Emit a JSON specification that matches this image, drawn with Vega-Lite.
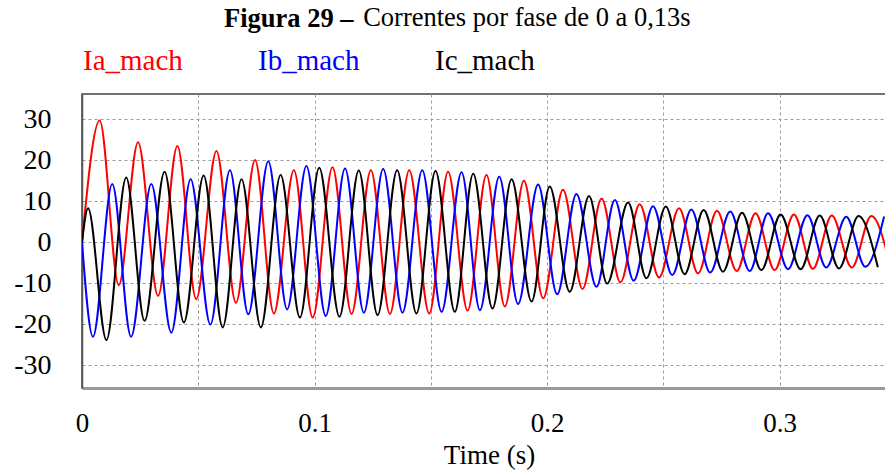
{
  "$schema": "https://vega.github.io/schema/vega-lite/v6.json",
  "autosize": {"type": "none"},
  "padding": {"left": 82, "top": 94, "right": 0, "bottom": 85},
  "width": 814,
  "height": 294,
  "background": "white",
  "title": {
    "text": "Figura 29 –",
    "subtitle": "\u200b\u00a0\u00a0\u00a0\u00a0\u00a0\u00a0\u00a0\u00a0\u00a0\u00a0\u00a0\u00a0\u00a0\u00a0\u00a0\u00a0\u00a0\u00a0\u00a0\u00a0\u00a0Correntes por fase de 0 a 0,13s",
    "anchor": "start",
    "frame": "group",
    "dx": 142,
    "font": "Times New Roman, Liberation Serif, serif",
    "fontSize": 26.5,
    "fontWeight": "bold",
    "color": "black",
    "subtitleFont": "Times New Roman, Liberation Serif, serif",
    "subtitleFontSize": 26.5,
    "subtitleFontWeight": "normal",
    "subtitleColor": "black",
    "subtitlePadding": -28,
    "offset": 12
  },
  "config": {
    "view": {"stroke": "#444444", "strokeWidth": 1.5},
    "axis": {
      "labelFont": "Times New Roman, Liberation Serif, serif",
      "titleFont": "Times New Roman, Liberation Serif, serif",
      "labelColor": "black",
      "titleColor": "black",
      "ticks": false,
      "grid": true,
      "gridColor": "#9a9a9a",
      "gridDash": [3, 3],
      "gridWidth": 1
    }
  },
  "data": {
    "values": [
      {"p": "Ia_mach", "t": 0, "i": 0},
      {"p": "Ia_mach", "t": 0.0076, "i": 29.7},
      {"p": "Ia_mach", "t": 0.0158, "i": -10.5},
      {"p": "Ia_mach", "t": 0.0241, "i": 24.4},
      {"p": "Ia_mach", "t": 0.0327, "i": -13.1},
      {"p": "Ia_mach", "t": 0.041, "i": 23.5},
      {"p": "Ia_mach", "t": 0.0491, "i": -13.9},
      {"p": "Ia_mach", "t": 0.0578, "i": 22.3},
      {"p": "Ia_mach", "t": 0.0662, "i": -14.8},
      {"p": "Ia_mach", "t": 0.0744, "i": 20.1},
      {"p": "Ia_mach", "t": 0.0825, "i": -17.4},
      {"p": "Ia_mach", "t": 0.0911, "i": 17.6},
      {"p": "Ia_mach", "t": 0.0992, "i": -18.4},
      {"p": "Ia_mach", "t": 0.1077, "i": 18.3},
      {"p": "Ia_mach", "t": 0.1159, "i": -17.5},
      {"p": "Ia_mach", "t": 0.1242, "i": 17.6},
      {"p": "Ia_mach", "t": 0.1324, "i": -17.5},
      {"p": "Ia_mach", "t": 0.1407, "i": 17.6},
      {"p": "Ia_mach", "t": 0.1493, "i": -17.4},
      {"p": "Ia_mach", "t": 0.1574, "i": 17.2},
      {"p": "Ia_mach", "t": 0.1658, "i": -16.7},
      {"p": "Ia_mach", "t": 0.1739, "i": 16.4},
      {"p": "Ia_mach", "t": 0.1818, "i": -15.7},
      {"p": "Ia_mach", "t": 0.19, "i": 15.0},
      {"p": "Ia_mach", "t": 0.1983, "i": -13.7},
      {"p": "Ia_mach", "t": 0.2068, "i": 12.8},
      {"p": "Ia_mach", "t": 0.2152, "i": -11.4},
      {"p": "Ia_mach", "t": 0.2234, "i": 10.7},
      {"p": "Ia_mach", "t": 0.2315, "i": -9.8},
      {"p": "Ia_mach", "t": 0.2398, "i": 9.3},
      {"p": "Ia_mach", "t": 0.2481, "i": -8.6},
      {"p": "Ia_mach", "t": 0.2567, "i": 8.3},
      {"p": "Ia_mach", "t": 0.2649, "i": -7.6},
      {"p": "Ia_mach", "t": 0.273, "i": 7.7},
      {"p": "Ia_mach", "t": 0.2815, "i": -7.0},
      {"p": "Ia_mach", "t": 0.2896, "i": 7.1},
      {"p": "Ia_mach", "t": 0.2978, "i": -6.8},
      {"p": "Ia_mach", "t": 0.3061, "i": 6.8},
      {"p": "Ia_mach", "t": 0.3143, "i": -6.5},
      {"p": "Ia_mach", "t": 0.3224, "i": 6.5},
      {"p": "Ia_mach", "t": 0.331, "i": -6.2},
      {"p": "Ia_mach", "t": 0.3394, "i": 6.4},
      {"p": "Ia_mach", "t": 0.3477, "i": -6.1},

      {"p": "Ib_mach", "t": 0, "i": 0},
      {"p": "Ib_mach", "t": 0.0047, "i": -23.1},
      {"p": "Ib_mach", "t": 0.013, "i": 14.2},
      {"p": "Ib_mach", "t": 0.0211, "i": -23.1},
      {"p": "Ib_mach", "t": 0.0298, "i": 14.2},
      {"p": "Ib_mach", "t": 0.0384, "i": -22.1},
      {"p": "Ib_mach", "t": 0.0467, "i": 15.4},
      {"p": "Ib_mach", "t": 0.0552, "i": -20.1},
      {"p": "Ib_mach", "t": 0.0636, "i": 17.6},
      {"p": "Ib_mach", "t": 0.0715, "i": -17.6},
      {"p": "Ib_mach", "t": 0.0801, "i": 19.8},
      {"p": "Ib_mach", "t": 0.0882, "i": -16.4},
      {"p": "Ib_mach", "t": 0.0965, "i": 18.6},
      {"p": "Ib_mach", "t": 0.1048, "i": -18.0},
      {"p": "Ib_mach", "t": 0.1131, "i": 18.0},
      {"p": "Ib_mach", "t": 0.1212, "i": -17.2},
      {"p": "Ib_mach", "t": 0.1295, "i": 17.9},
      {"p": "Ib_mach", "t": 0.1378, "i": -17.2},
      {"p": "Ib_mach", "t": 0.1463, "i": 17.6},
      {"p": "Ib_mach", "t": 0.1546, "i": -17.0},
      {"p": "Ib_mach", "t": 0.1632, "i": 17.1},
      {"p": "Ib_mach", "t": 0.1711, "i": -16.6},
      {"p": "Ib_mach", "t": 0.1794, "i": 16.0},
      {"p": "Ib_mach", "t": 0.1875, "i": -15.1},
      {"p": "Ib_mach", "t": 0.1961, "i": 14.1},
      {"p": "Ib_mach", "t": 0.2043, "i": -12.7},
      {"p": "Ib_mach", "t": 0.2126, "i": 11.8},
      {"p": "Ib_mach", "t": 0.2212, "i": -10.9},
      {"p": "Ib_mach", "t": 0.2291, "i": 10.3},
      {"p": "Ib_mach", "t": 0.2372, "i": -9.4},
      {"p": "Ib_mach", "t": 0.2455, "i": 8.8},
      {"p": "Ib_mach", "t": 0.2538, "i": -8.0},
      {"p": "Ib_mach", "t": 0.262, "i": 8.0},
      {"p": "Ib_mach", "t": 0.2701, "i": -7.4},
      {"p": "Ib_mach", "t": 0.2787, "i": 7.5},
      {"p": "Ib_mach", "t": 0.2871, "i": -7.0},
      {"p": "Ib_mach", "t": 0.295, "i": 7.1},
      {"p": "Ib_mach", "t": 0.3036, "i": -6.6},
      {"p": "Ib_mach", "t": 0.3119, "i": 6.6},
      {"p": "Ib_mach", "t": 0.32, "i": -6.2},
      {"p": "Ib_mach", "t": 0.3286, "i": 6.2},
      {"p": "Ib_mach", "t": 0.3368, "i": -6.0},
      {"p": "Ib_mach", "t": 0.3449, "i": 6.3},

      {"p": "Ic_mach", "t": 0, "i": 0},
      {"p": "Ic_mach", "t": 0.0026, "i": 8.3},
      {"p": "Ic_mach", "t": 0.0105, "i": -23.9},
      {"p": "Ic_mach", "t": 0.019, "i": 15.8},
      {"p": "Ic_mach", "t": 0.0269, "i": -19.2},
      {"p": "Ic_mach", "t": 0.0355, "i": 17.2},
      {"p": "Ic_mach", "t": 0.0438, "i": -19.6},
      {"p": "Ic_mach", "t": 0.0523, "i": 16.3},
      {"p": "Ic_mach", "t": 0.0605, "i": -20.8},
      {"p": "Ic_mach", "t": 0.0686, "i": 15.4},
      {"p": "Ic_mach", "t": 0.0769, "i": -20.8},
      {"p": "Ic_mach", "t": 0.0854, "i": 16.4},
      {"p": "Ic_mach", "t": 0.0937, "i": -18.4},
      {"p": "Ic_mach", "t": 0.102, "i": 18.2},
      {"p": "Ic_mach", "t": 0.1107, "i": -18.2},
      {"p": "Ic_mach", "t": 0.119, "i": 17.5},
      {"p": "Ic_mach", "t": 0.1271, "i": -17.8},
      {"p": "Ic_mach", "t": 0.1355, "i": 17.6},
      {"p": "Ic_mach", "t": 0.1438, "i": -17.4},
      {"p": "Ic_mach", "t": 0.152, "i": 17.4},
      {"p": "Ic_mach", "t": 0.1603, "i": -17.0},
      {"p": "Ic_mach", "t": 0.1682, "i": 16.7},
      {"p": "Ic_mach", "t": 0.1765, "i": -16.2},
      {"p": "Ic_mach", "t": 0.1847, "i": 15.4},
      {"p": "Ic_mach", "t": 0.1933, "i": -14.5},
      {"p": "Ic_mach", "t": 0.2011, "i": 13.6},
      {"p": "Ic_mach", "t": 0.2097, "i": -12.1},
      {"p": "Ic_mach", "t": 0.218, "i": 11.3},
      {"p": "Ic_mach", "t": 0.2258, "i": -10.1},
      {"p": "Ic_mach", "t": 0.2348, "i": 9.7},
      {"p": "Ic_mach", "t": 0.2427, "i": -8.8},
      {"p": "Ic_mach", "t": 0.251, "i": 8.7},
      {"p": "Ic_mach", "t": 0.2591, "i": -7.8},
      {"p": "Ic_mach", "t": 0.2673, "i": 7.9},
      {"p": "Ic_mach", "t": 0.2756, "i": -7.2},
      {"p": "Ic_mach", "t": 0.2838, "i": 7.2},
      {"p": "Ic_mach", "t": 0.2921, "i": -6.8},
      {"p": "Ic_mach", "t": 0.3004, "i": 6.8},
      {"p": "Ic_mach", "t": 0.309, "i": -6.6},
      {"p": "Ic_mach", "t": 0.3172, "i": 6.5},
      {"p": "Ic_mach", "t": 0.3255, "i": -6.4},
      {"p": "Ic_mach", "t": 0.3339, "i": 6.4},
      {"p": "Ic_mach", "t": 0.3422, "i": -6.1}
    ]
  },
  "mark": {"type": "line", "interpolate": "monotone", "strokeWidth": 2, "clip": true},
  "encoding": {
    "x": {
      "field": "t",
      "type": "quantitative",
      "scale": {"domain": [0, 0.35], "nice": false, "zero": false},
      "axis": {
        "title": "Time (s)",
        "values": [0, 0.05, 0.1, 0.15, 0.2, 0.25, 0.3],
        "labelExpr": "abs(datum.value * 10 - round(datum.value * 10)) < 0.001 ? format(datum.value, '.1~f') : ''",
        "labelFlush": false,
        "labelFontSize": 27,
        "labelPadding": 22,
        "titleFontSize": 27,
        "titleFontWeight": "normal",
        "titlePadding": 6,
        "domainColor": "#9a9a9a",
        "domainWidth": 3
      }
    },
    "y": {
      "field": "i",
      "type": "quantitative",
      "scale": {"domain": [-35.6, 36.2], "nice": false, "zero": false},
      "axis": {
        "title": null,
        "values": [-30, -20, -10, 0, 10, 20, 30],
        "labelExpr": "'' + datum.value",
        "labelFontSize": 28,
        "labelPadding": 31,
        "domainColor": "#555555",
        "domainWidth": 1.5
      }
    },
    "color": {
      "field": "p",
      "type": "nominal",
      "scale": {"domain": ["Ia_mach", "Ib_mach", "Ic_mach"], "range": ["#ff0000", "#0000ff", "#000000"]},
      "legend": {
        "title": null,
        "orient": "top",
        "direction": "horizontal",
        "symbolSize": 0,
        "symbolOpacity": 0,
        "symbolStrokeWidth": 0,
        "labelOffset": -28,
        "columnPadding": 74,
        "labelFont": "Times New Roman, Liberation Serif, serif",
        "labelFontSize": 29,
        "labelColor": {"expr": "scale('color', datum.value)"},
        "offset": 18,
        "padding": 0
      }
    }
  }
}
